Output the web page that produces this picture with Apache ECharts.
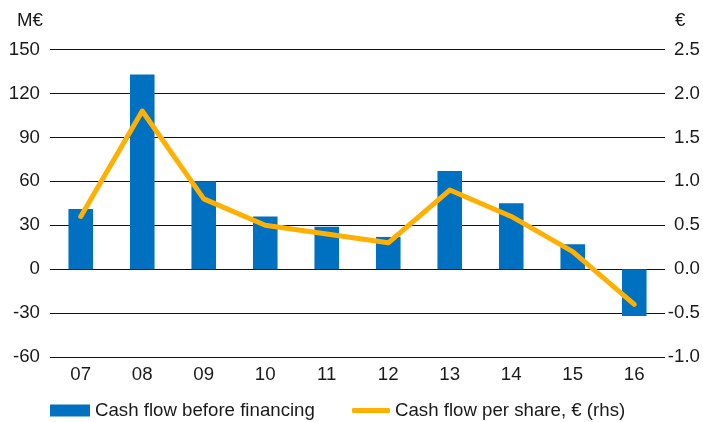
<!DOCTYPE html>
<html>
<head>
<meta charset="utf-8">
<script src="https://cdn.jsdelivr.net/npm/echarts@6/dist/echarts.min.js"></script>
<style>
  html, body { margin: 0; padding: 0; background: #fff; }
  #chart { width: 703px; height: 422px; }
</style>
</head>
<body>
<div id="chart"></div>
<script>
// Data
const years = ['07', '08', '09', '10', '11', '12', '13', '14', '15', '16'];
const cashFlowBeforeFinancing = [41, 133, 60, 36, 29, 22, 67, 45, 17, -32];   // M€
const cashFlowPerShare = [0.6, 1.8, 0.8, 0.5, 0.4, 0.3, 0.9, 0.6, 0.2, -0.4];  // €
const leftTicks = { min: -60, max: 150, interval: 30 };
const rightTicks = { min: -1.0, max: 2.5, interval: 0.5 };

const barColor = '#0070c0';
const lineColor = '#ffb000';
const textColor = '#1a1a1a';
const font = '"Liberation Sans", Arial, sans-serif';
const fs = 18.67;

const chart = echarts.init(document.getElementById('chart'), null, { renderer: 'canvas' });

const option = {
    animation: false,
    textStyle: { fontFamily: font, color: textColor },
    grid: { left: 50, right: 36, top: 49.5, bottom: 65, containLabel: false },
    legend: [
        {
            left: 50, top: 401, padding: 0,
            icon: 'rect', itemWidth: 40, itemHeight: 12,
            textStyle: { fontSize: fs, color: textColor, fontFamily: font },
            data: ['Cash flow before financing']
        },
        {
            left: 352, top: 401, padding: 0,
            icon: 'roundRect', itemWidth: 38, itemHeight: 5,
            textStyle: { fontSize: fs, color: textColor, fontFamily: font },
            data: ['Cash flow per share, € (rhs)']
        }
    ],
    xAxis: {
        type: 'category',
        data: years,
        boundaryGap: true,
        axisLine: { show: false },
        axisTick: { show: false },
        axisLabel: { fontSize: fs, color: textColor, margin: 8, fontFamily: font }
    },
    yAxis: [
        {
            type: 'value',
            min: leftTicks.min, max: leftTicks.max, interval: leftTicks.interval,
            name: 'M€',
            nameLocation: 'end',
            nameGap: 19,
            nameTextStyle: { fontSize: fs, color: textColor, align: 'right', padding: [0, 7, 0, 0], fontFamily: font },
            axisLine: { show: false },
            axisTick: { show: false },
            axisLabel: { fontSize: fs, color: textColor, margin: 10, fontFamily: font },
            splitLine: { lineStyle: { color: '#111', width: 1.2 } }
        },
        {
            type: 'value',
            position: 'right',
            min: rightTicks.min, max: rightTicks.max, interval: rightTicks.interval,
            name: '€',
            nameLocation: 'end',
            nameGap: 19,
            nameTextStyle: { fontSize: fs, color: textColor, align: 'left', padding: [0, 0, 0, 10], fontFamily: font },
            axisLine: { show: false },
            axisTick: { show: false },
            axisLabel: {
                fontSize: fs, color: textColor, margin: 35, align: 'right', fontFamily: font,
                formatter: v => v.toFixed(1)
            },
            splitLine: { show: false }
        }
    ],
    series: [
        {
            name: 'Cash flow before financing',
            type: 'bar',
            yAxisIndex: 0,
            data: cashFlowBeforeFinancing,
            barWidth: '40%',
            itemStyle: { color: barColor }
        },
        {
            name: 'Cash flow per share, € (rhs)',
            type: 'line',
            yAxisIndex: 1,
            data: cashFlowPerShare,
            symbol: 'none',
            lineStyle: { color: lineColor, width: 5, cap: 'round', join: 'round' },
            itemStyle: { color: lineColor },
            z: 3
        }
    ]
};

chart.setOption(option);
</script>
</body>
</html>
